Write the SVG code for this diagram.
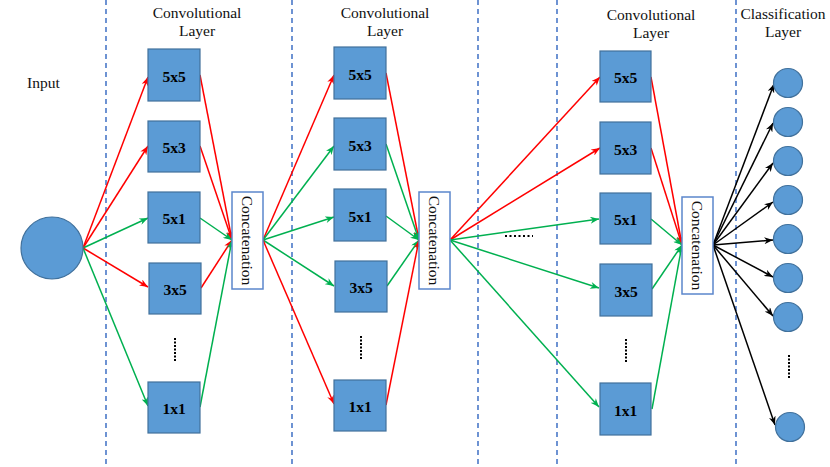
<svg xmlns="http://www.w3.org/2000/svg" width="830" height="467" viewBox="0 0 830 467">
<style>
.dash{stroke:#4a78c8;stroke-width:1.6;stroke-dasharray:5 4;fill:none}
.box{fill:#5b9bd5;stroke:#41719c;stroke-width:1.2}
.node{fill:#5b9bd5;stroke:#41719c;stroke-width:1.2}
.cat{fill:#ffffff;stroke:#5b86cc;stroke-width:1.5}
.lbl{font-family:"Liberation Serif",serif;font-size:15.5px;fill:#111}
.bl{font-family:"Liberation Serif",serif;font-size:15.5px;font-weight:bold;fill:#000;text-anchor:middle}
.hd{font-family:"Liberation Serif",serif;font-size:15.5px;fill:#111;text-anchor:middle}
.dots{font-family:"Liberation Serif",serif;font-size:15px;font-weight:bold;fill:#000}
.r{stroke:#ff0000;stroke-width:1.5;fill:none;marker-end:url(#ar)}
.g{stroke:#00b050;stroke-width:1.5;fill:none;marker-end:url(#ag)}
.k{stroke:#000000;stroke-width:1.5;fill:none;marker-end:url(#ak)}
</style>
<defs>
<marker id="ar" viewBox="0 0 10 8" refX="10" refY="4" markerWidth="9" markerHeight="7" markerUnits="userSpaceOnUse" orient="auto"><path d="M0,0 L10,4 L0,8 L3,4 z" fill="#ff0000"/></marker>
<marker id="ag" viewBox="0 0 10 8" refX="10" refY="4" markerWidth="9" markerHeight="7" markerUnits="userSpaceOnUse" orient="auto"><path d="M0,0 L10,4 L0,8 L3,4 z" fill="#00b050"/></marker>
<marker id="ak" viewBox="0 0 10 8" refX="10" refY="4" markerWidth="9" markerHeight="7" markerUnits="userSpaceOnUse" orient="auto"><path d="M0,0 L10,4 L0,8 L3,4 z" fill="#000000"/></marker>
</defs>
<rect width="830" height="467" fill="#ffffff"/>
<g id="dividers">
<line class="dash" x1="106" y1="0" x2="106" y2="467"/>
<line class="dash" x1="292" y1="0" x2="292" y2="467"/>
<line class="dash" x1="478" y1="0" x2="478" y2="467"/>
<line class="dash" x1="557" y1="0" x2="557" y2="467"/>
<line class="dash" x1="736" y1="0" x2="736" y2="467"/>
</g>
<g id="headers">
<text class="lbl" x="27" y="88">Input</text>
<text class="hd" x="197" y="18">Convolutional</text>
<text class="hd" x="197" y="36">Layer</text>
<text class="hd" x="385" y="18">Convolutional</text>
<text class="hd" x="385" y="36">Layer</text>
<text class="hd" x="651" y="20">Convolutional</text>
<text class="hd" x="651" y="38">Layer</text>
<text class="hd" x="783" y="19">Classification</text>
<text class="hd" x="783" y="37">Layer</text>
</g>
<g id="connectors">
<line class="r" x1="83" y1="248" x2="148" y2="77"/>
<line class="r" x1="83" y1="248" x2="148" y2="146"/>
<line class="g" x1="83" y1="248" x2="148" y2="218"/>
<line class="r" x1="83" y1="248" x2="148" y2="287"/>
<line class="g" x1="83" y1="248" x2="148" y2="406"/>
<line class="r" x1="200" y1="75" x2="232" y2="240"/>
<line class="r" x1="200" y1="146" x2="232" y2="240"/>
<line class="g" x1="200" y1="218" x2="232" y2="240"/>
<line class="r" x1="201" y1="288" x2="232" y2="240"/>
<line class="g" x1="200" y1="407" x2="232" y2="240"/>
<line class="r" x1="263" y1="240" x2="334" y2="75"/>
<line class="g" x1="263" y1="240" x2="334" y2="146"/>
<line class="g" x1="263" y1="240" x2="334" y2="217"/>
<line class="g" x1="263" y1="240" x2="334" y2="286"/>
<line class="r" x1="263" y1="240" x2="334" y2="404"/>
<line class="r" x1="386" y1="73" x2="419" y2="240"/>
<line class="g" x1="386" y1="144" x2="419" y2="240"/>
<line class="g" x1="386" y1="216" x2="419" y2="240"/>
<line class="g" x1="387" y1="286" x2="419" y2="240"/>
<line class="r" x1="386" y1="405" x2="419" y2="240"/>
<line class="r" x1="450" y1="240" x2="600" y2="77"/>
<line class="r" x1="450" y1="240" x2="600" y2="148"/>
<line class="g" x1="450" y1="240" x2="599" y2="219"/>
<line class="g" x1="450" y1="240" x2="599" y2="288"/>
<line class="g" x1="450" y1="240" x2="599" y2="407"/>
<line class="r" x1="651" y1="77" x2="682" y2="245"/>
<line class="r" x1="651" y1="148" x2="682" y2="245"/>
<line class="g" x1="651" y1="219" x2="682" y2="245"/>
<line class="g" x1="652" y1="289" x2="682" y2="245"/>
<line class="g" x1="652" y1="409" x2="682" y2="245"/>
<line class="k" x1="713" y1="245" x2="774" y2="84"/>
<line class="k" x1="713" y1="245" x2="773" y2="123"/>
<line class="k" x1="713" y1="245" x2="773" y2="163"/>
<line class="k" x1="713" y1="245" x2="773" y2="202"/>
<line class="k" x1="713" y1="245" x2="773" y2="240"/>
<line class="k" x1="713" y1="245" x2="773" y2="277"/>
<line class="k" x1="713" y1="245" x2="773" y2="316"/>
<line class="k" x1="713" y1="245" x2="775" y2="425"/>
</g>
<g id="input"><circle class="node" cx="52" cy="248" r="31"/></g>
<g id="c1-5x5"><rect class="box" x="148" y="49" width="52" height="52"/><text class="bl" x="174" y="82">5x5</text></g>
<g id="c1-5x3"><rect class="box" x="148" y="121" width="52" height="51"/><text class="bl" x="174" y="153">5x3</text></g>
<g id="c1-5x1"><rect class="box" x="148" y="192" width="52" height="51"/><text class="bl" x="174" y="224">5x1</text></g>
<g id="c1-3x5"><rect class="box" x="149" y="263" width="52" height="51"/><text class="bl" x="175" y="295">3x5</text></g>
<g id="c1-dots"><line x1="175" y1="338" x2="175" y2="362" stroke="#000" stroke-width="2" stroke-dasharray="2 1.5"/></g>
<g id="c1-1x1"><rect class="box" x="148" y="382" width="52" height="51"/><text class="bl" x="174" y="414">1x1</text></g>
<g id="concat1"><rect class="cat" x="232" y="192" width="31" height="97"/><text class="lbl" transform="translate(247.5,240.5) rotate(90)" text-anchor="middle" dominant-baseline="central">Concatenation</text></g>
<g id="c2-5x5"><rect class="box" x="334" y="47" width="52" height="52"/><text class="bl" x="360" y="80">5x5</text></g>
<g id="c2-5x3"><rect class="box" x="334" y="118" width="52" height="52"/><text class="bl" x="360" y="151">5x3</text></g>
<g id="c2-5x1"><rect class="box" x="334" y="189" width="52" height="52"/><text class="bl" x="360" y="222">5x1</text></g>
<g id="c2-3x5"><rect class="box" x="335" y="261" width="52" height="51"/><text class="bl" x="361" y="293">3x5</text></g>
<g id="c2-dots"><line x1="361" y1="336" x2="361" y2="360" stroke="#000" stroke-width="2" stroke-dasharray="2 1.5"/></g>
<g id="c2-1x1"><rect class="box" x="334" y="380" width="52" height="51"/><text class="bl" x="360" y="412">1x1</text></g>
<g id="concat2"><rect class="cat" x="419" y="192" width="31" height="97"/><text class="lbl" transform="translate(434.5,240.5) rotate(90)" text-anchor="middle" dominant-baseline="central">Concatenation</text></g>
<g id="mid-dots"><line x1="505" y1="236" x2="533" y2="236" stroke="#000" stroke-width="2" stroke-dasharray="2 2.5"/></g>
<g id="c3-5x5"><rect class="box" x="600" y="51" width="51" height="51"/><text class="bl" x="625.5" y="83">5x5</text></g>
<g id="c3-5x3"><rect class="box" x="600" y="122" width="51" height="52"/><text class="bl" x="625.5" y="155">5x3</text></g>
<g id="c3-5x1"><rect class="box" x="600" y="193" width="51" height="51"/><text class="bl" x="625.5" y="225">5x1</text></g>
<g id="c3-3x5"><rect class="box" x="600" y="264" width="52" height="52"/><text class="bl" x="626" y="297">3x5</text></g>
<g id="c3-dots"><line x1="626" y1="339" x2="626" y2="363" stroke="#000" stroke-width="2" stroke-dasharray="2 1.5"/></g>
<g id="c3-1x1"><rect class="box" x="600" y="383" width="51" height="52"/><text class="bl" x="625.5" y="416">1x1</text></g>
<g id="concat3"><rect class="cat" x="682" y="197" width="31" height="97"/><text class="lbl" transform="translate(697.5,245.5) rotate(90)" text-anchor="middle" dominant-baseline="central">Concatenation</text></g>
<g id="out1"><circle class="node" cx="788" cy="83" r="14.5"/></g>
<g id="out2"><circle class="node" cx="788" cy="122" r="14.5"/></g>
<g id="out3"><circle class="node" cx="788" cy="161" r="14.5"/></g>
<g id="out4"><circle class="node" cx="788" cy="200" r="14.5"/></g>
<g id="out5"><circle class="node" cx="788" cy="239" r="14.5"/></g>
<g id="out6"><circle class="node" cx="788" cy="278" r="14.5"/></g>
<g id="out7"><circle class="node" cx="788" cy="317" r="14.5"/></g>
<g id="out-dots"><line x1="789" y1="355" x2="789" y2="379" stroke="#000" stroke-width="2" stroke-dasharray="2 1.5"/></g>
<g id="out8"><circle class="node" cx="790" cy="427" r="14.5"/></g>
</svg>
